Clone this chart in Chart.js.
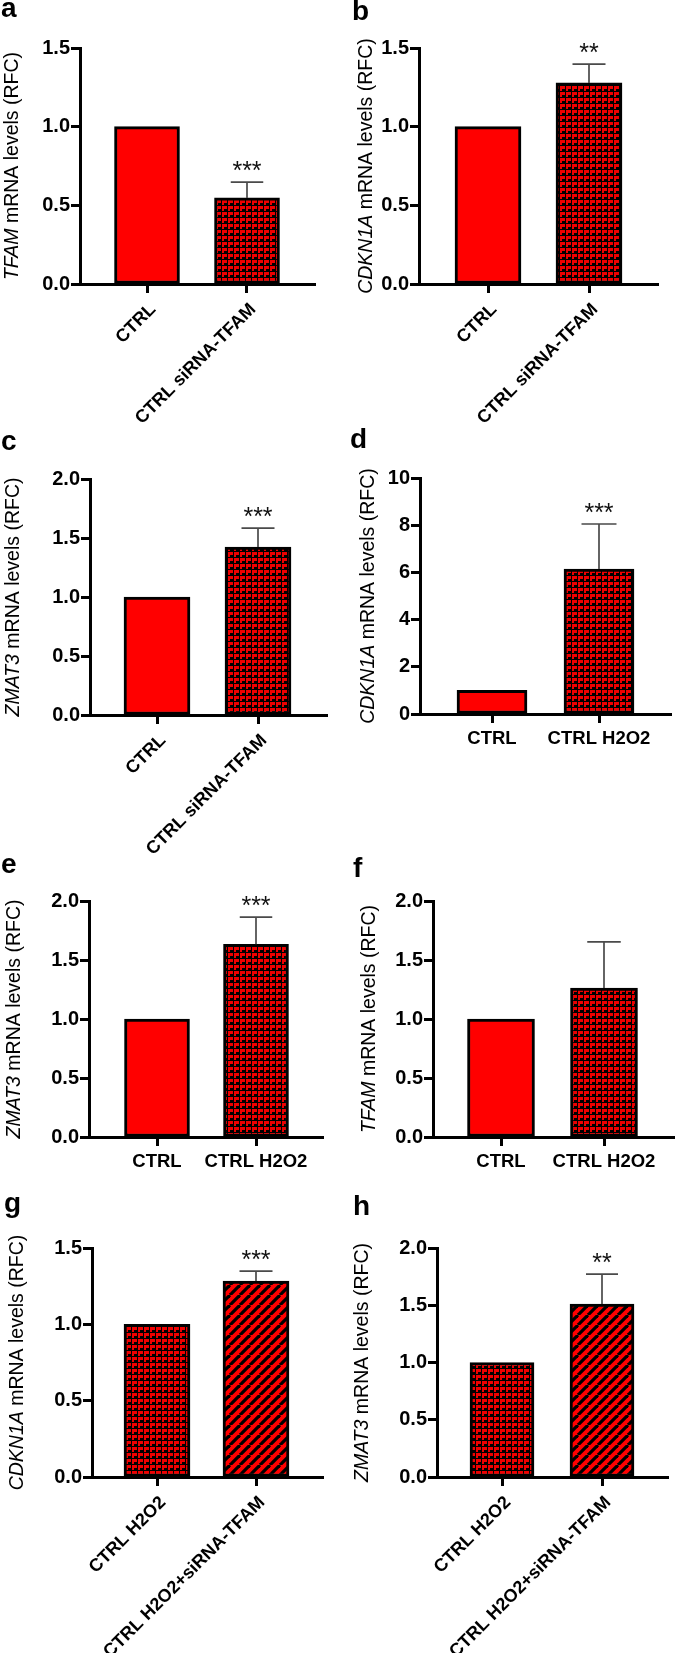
<!DOCTYPE html>
<html>
<head>
<meta charset="utf-8">
<script src="https://cdn.jsdelivr.net/npm/chart.js@4/dist/chart.umd.min.js"></script>
<style>
body { margin: 0; background: #fff; width: 676px; height: 1653px; position: relative; overflow: hidden; }
canvas { position: absolute; }
.lt { position: absolute; font: bold 28px 'Liberation Sans', Arial, sans-serif; line-height: 28px; color: #000; }
</style>
</head>
<body>
<div id="root"></div>
<script>
const FONT = "'Liberation Sans', Arial, sans-serif";

// ---- data ----
const panelIds = ['a', 'b', 'c', 'd', 'e', 'f', 'g', 'h'];
const genes = ['TFAM', 'CDKN1A', 'ZMAT3', 'CDKN1A', 'ZMAT3', 'TFAM', 'CDKN1A', 'ZMAT3'];
const groupsSi = ['CTRL', 'CTRL siRNA-TFAM'];
const groupsH2o2 = ['CTRL', 'CTRL H2O2'];
const groupsCombo = ['CTRL H2O2', 'CTRL H2O2+siRNA-TFAM'];
const categories = [groupsSi, groupsSi, groupsSi, groupsH2o2, groupsH2o2, groupsH2o2, groupsCombo, groupsCombo];
const means = [[1, 0.547], [1, 1.278], [1, 1.424], [1, 6.14], [1, 1.633], [1, 1.263], [1, 1.284], [1, 1.511]];
const errors = [[0, 0.10], [0, 0.12], [0, 0.16], [0, 1.91], [0, 0.23], [0, 0.39], [0, 0.065], [0, 0.26]];
const stars = [['', '***'], ['', '**'], ['', '***'], ['', '***'], ['', '***'], ['', ''], ['', '***'], ['', '**']];
const yMax = [1.5, 1.5, 2, 10, 2, 2, 1.5, 2];
const yStep = [0.5, 0.5, 0.5, 2, 0.5, 0.5, 0.5, 0.5];
const fills = [
    ['solid', 'checker'], ['solid', 'checker'], ['solid', 'checker'], ['solid', 'checker'],
    ['solid', 'checker'], ['solid', 'checker'], ['checker', 'stripe'], ['checker', 'stripe']
];

// ---- layout (page pixels) ----
const YW = 70;
const frames = [
    {x: 0, y: 20, w: 338, h: 415, L: 80, R: 315, T: 48, B: 284, p0: 147, p1: 247, bw: 65, tx: 13, rot: 45, lx: 1, ly: -6},
    {x: 338, y: 20, w: 338, h: 415, L: 419, R: 658, T: 48, B: 284, p0: 488, p1: 589, bw: 66, tx: 29, rot: 45, lx: 352, ly: -3},
    {x: 0, y: 450, w: 338, h: 410, L: 90, R: 327, T: 479, B: 715, p0: 157, p1: 258, bw: 66, tx: 14, rot: 45, lx: 1, ly: 427},
    {x: 338, y: 450, w: 338, h: 410, L: 420, R: 671, T: 478, B: 714, p0: 492, p1: 599, bw: 70, tx: 31, rot: 0, lx: 350, ly: 425},
    {x: 0, y: 875, w: 338, h: 330, L: 89, R: 323, T: 901, B: 1137, p0: 157, p1: 256, bw: 65, tx: 15, rot: 0, lx: 1, ly: 850},
    {x: 338, y: 875, w: 338, h: 330, L: 433, R: 674, T: 901, B: 1137, p0: 501, p1: 604, bw: 67, tx: 32, rot: 0, lx: 353, ly: 854},
    {x: 0, y: 1225, w: 338, h: 428, L: 92, R: 323, T: 1248, B: 1477, p0: 157, p1: 256, bw: 66, tx: 18, rot: 45, lx: 4, ly: 1189},
    {x: 338, y: 1225, w: 338, h: 428, L: 437, R: 668, T: 1248, B: 1477, p0: 502, p1: 602, bw: 64, tx: 25, rot: 45, lx: 353, ly: 1192}
];

const makeFill = (kind) => {
    if (kind === 'solid') return '#ff0000';
    const c = document.createElement('canvas');
    const g = c.getContext('2d');
    if (kind === 'checker') {
        c.width = 6; c.height = 6;
        g.fillStyle = '#000';
        g.fillRect(0, 0, 6, 6);
        g.fillStyle = '#ee0000';
        g.fillRect(0, 0, 5, 3);
        g.fillRect(0, 3, 2, 2);
    } else {
        c.width = 10; c.height = 10;
        g.fillStyle = '#ff0000';
        g.fillRect(0, 0, 10, 10);
        g.strokeStyle = '#000';
        g.lineWidth = 3.2;
        for (const o of [-10, 0, 10]) {
            g.beginPath();
            g.moveTo(o, 10);
            g.lineTo(o + 10, 0);
            g.stroke();
        }
    }
    return g.createPattern(c, 'repeat');
};

const errPlugin = {
    id: 'errbars',
    afterDatasetsDraw(chart) {
        const ctx = chart.ctx;
        const ys = chart.scales.y;
        const ds = chart.data.datasets[0];
        chart.getDatasetMeta(0).data.forEach((bar, k) => {
            const v = ds.data[k].y;
            const e = ds.errs[k];
            const top = ys.getPixelForValue(v + e);
            ctx.save();
            if (e > 0) {
                const half = bar.width / 4;
                ctx.strokeStyle = '#4a4a4a';
                ctx.lineWidth = 1.7;
                ctx.beginPath();
                ctx.moveTo(bar.x, bar.y);
                ctx.lineTo(bar.x, top);
                ctx.moveTo(bar.x - half, top);
                ctx.lineTo(bar.x + half, top);
                ctx.stroke();
            }
            if (ds.marks[k]) {
                ctx.fillStyle = '#111';
                ctx.font = '25px ' + FONT;
                ctx.textAlign = 'center';
                ctx.textBaseline = 'alphabetic';
                ctx.fillText(ds.marks[k], bar.x, top - 3);
            }
            ctx.restore();
        });
    }
};

const titlePlugin = {
    id: 'ytitle',
    afterDraw(chart, args, opts) {
        const {ctx, chartArea} = chart;
        const cy = (chartArea.top + chartArea.bottom) / 2;
        const fi = 'italic 19.5px ' + FONT;
        const fn = '19.5px ' + FONT;
        const rest = ' mRNA levels (RFC)';
        ctx.save();
        ctx.translate(opts.x, cy);
        ctx.rotate(-Math.PI / 2);
        ctx.font = fi;
        const w1 = ctx.measureText(opts.gene).width;
        ctx.font = fn;
        const w2 = ctx.measureText(rest).width;
        const x0 = -(w1 + w2) / 2;
        ctx.fillStyle = '#000';
        ctx.textAlign = 'left';
        ctx.textBaseline = 'middle';
        ctx.font = fi;
        ctx.fillText(opts.gene, x0, 0);
        ctx.font = fn;
        ctx.fillText(rest, x0 + w1, 0);
        ctx.restore();
    }
};

const root = document.getElementById('root');

panelIds.forEach((id, i) => {
    const f = frames[i];
    const cv = document.createElement('canvas');
    cv.width = f.w;
    cv.height = f.h;
    cv.style.left = f.x + 'px';
    cv.style.top = f.y + 'px';
    root.appendChild(cv);

    const letter = document.createElement('div');
    letter.className = 'lt';
    letter.textContent = id;
    letter.style.left = f.lx + 'px';
    letter.style.top = f.ly + 'px';
    root.appendChild(letter);

    const perUnit = f.p1 - f.p0;
    const xMin = -(f.p0 - f.L) / perUnit;
    const xMax = (f.R - f.p0) / perUnit;

    new Chart(cv.getContext('2d'), {
        type: 'bar',
        data: {
            datasets: [{
                data: means[i].map((v, k) => ({x: k, y: v})),
                backgroundColor: fills[i].map(makeFill),
                borderColor: '#000',
                borderWidth: 3,
                borderSkipped: false,
                barThickness: f.bw,
                errs: errors[i],
                marks: stars[i]
            }]
        },
        options: {
            responsive: false,
            animation: false,
            events: [],
            layout: {
                padding: {left: f.L - f.x - YW, right: f.x + f.w - f.R, top: f.T - f.y, bottom: 0}
            },
            plugins: {
                legend: {display: false},
                tooltip: {enabled: false},
                ytitle: {x: f.tx, gene: genes[i]}
            },
            scales: {
                x: {
                    type: 'linear',
                    min: xMin,
                    max: xMax,
                    offset: false,
                    afterBuildTicks: (s) => { s.ticks = categories[i].map((c, k) => ({value: k})); },
                    afterFit: (s) => { s.height = f.y + f.h - f.B; },
                    border: {color: '#000', width: 3},
                    grid: {offset: false, drawOnChartArea: false, color: '#000', tickLength: 9, tickWidth: 3},
                    ticks: {
                        color: '#000',
                        font: {family: FONT, size: f.rot ? 18 : 18.5, weight: 'bold'},
                        minRotation: f.rot,
                        maxRotation: f.rot,
                        autoSkip: false,
                        labelOffset: f.rot ? 6 : 0,
                        padding: f.rot ? 6 : 5,
                        callback: (v, k) => categories[i][k]
                    }
                },
                y: {
                    min: 0,
                    max: yMax[i],
                    afterFit: (s) => { s.width = YW; },
                    border: {color: '#000', width: 3},
                    grid: {drawOnChartArea: false, color: '#000', tickLength: 9, tickWidth: 3},
                    ticks: {
                        stepSize: yStep[i],
                        color: '#000',
                        padding: 1,
                        font: {family: FONT, size: 20, weight: 'bold'},
                        callback: (v) => yMax[i] >= 5 ? String(v) : v.toFixed(1)
                    }
                }
            }
        },
        plugins: [errPlugin, titlePlugin]
    });
});
</script>
</body>
</html>
